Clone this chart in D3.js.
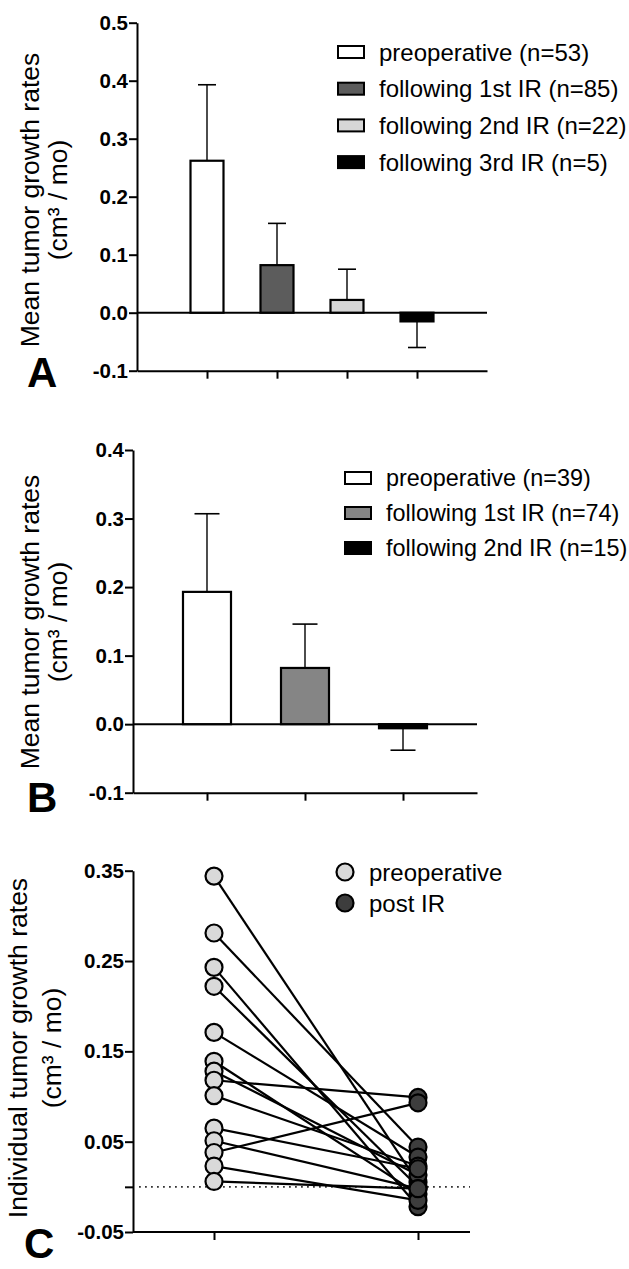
<!DOCTYPE html>
<html>
<head>
<meta charset="utf-8">
<script src="https://cdn.jsdelivr.net/npm/d3@7"></script>
<style>
  body { margin: 0; background: #fff; }
  svg text { font-family: "Liberation Sans", Arial, sans-serif; fill: #000; }
  svg .tick text { font-size: 20.5px; font-weight: bold; }
  .ttl { font-size: 26.5px; }
  .leg { font-size: 24px; }
  .legB { font-size: 23.4px; }
  .letter { font-size: 42px; font-weight: bold; }
</style>
</head>
<body>
<script>
"use strict";

// ---- panel A: mean growth rates, all patients
const groupsA = ["preoperative (n=53)", "following 1st IR (n=85)", "following 2nd IR (n=22)", "following 3rd IR (n=5)"];
const meansA = [0.262, 0.082, 0.022, -0.015];
const errsA = [0.131, 0.072, 0.053, 0.045];
const ticksA = [-0.1, 0.0, 0.1, 0.2, 0.3, 0.4, 0.5];

// ---- panel B: mean growth rates, second cohort
const groupsB = ["preoperative (n=39)", "following 1st IR (n=74)", "following 2nd IR (n=15)"];
const meansB = [0.193, 0.082, -0.006];
const errsB = [0.114, 0.064, 0.032];
const ticksB = [-0.1, 0.0, 0.1, 0.2, 0.3, 0.4];

// ---- panel C: individual paired rates
const seriesC = ["preoperative", "post IR"];
const preC  = [0.344, 0.281, 0.243, 0.222, 0.171, 0.139, 0.128, 0.118, 0.101, 0.065, 0.051, 0.038, 0.023, 0.006];
const postC = [0.005, 0.044, -0.022, 0.000, 0.033, -0.008, 0.013, 0.099, 0.023, 0.020, -0.002, 0.093, -0.015, -0.002];
const ticksC = [-0.05, 0.0, 0.05, 0.15, 0.25, 0.35];

const yTitle1 = "Mean tumor growth rates";
const yTitleC = "Individual tumor growth rates";
const yUnit = "(cm\u00B3 / mo)";

const W = 629, H = 1269;
const svg = d3.select("body").append("svg")
    .attr("width", W)
    .attr("height", H)
    .style("background", "#fff");

function styleAxis(g) {
    g.attr("font-size", null).attr("font-family", null);
    g.select(".domain").attr("stroke", "#000").attr("stroke-width", 2);
    g.selectAll(".tick line").attr("stroke", "#000").attr("stroke-width", 2);
}

function yTitle(x1, x2, yc, line1) {
    svg.append("text").attr("class", "ttl")
        .attr("transform", `translate(${x1},${yc}) rotate(-90)`)
        .attr("text-anchor", "middle").text(line1);
    svg.append("text").attr("class", "ttl")
        .attr("transform", `translate(${x2},${yc}) rotate(-90)`)
        .attr("text-anchor", "middle").text(yUnit);
}

function barPanel(cfg) {
    const g = svg.append("g");
    const y = d3.scaleLinear().domain(cfg.yDomain).range(cfg.yRange);
    const x = d3.scalePoint().domain(cfg.groups).range(cfg.xRange).padding(cfg.pad);
    const bw = cfg.barWidth, cw = cfg.capWidth;

    // zero line
    g.append("line")
        .attr("x1", cfg.xRange[0]).attr("x2", cfg.xRange[1])
        .attr("y1", y(0)).attr("y2", y(0))
        .attr("stroke", "#000").attr("stroke-width", 2);

    // error bars (one-sided, away from zero)
    const tip = i => cfg.means[i] + Math.sign(cfg.means[i]) * cfg.errs[i];
    g.selectAll("line.err").data(cfg.groups).join("line")
        .attr("class", "err")
        .attr("x1", d => x(d)).attr("x2", d => x(d))
        .attr("y1", (d, i) => y(cfg.means[i]))
        .attr("y2", (d, i) => y(tip(i)))
        .attr("stroke", "#000").attr("stroke-width", 1.4);
    g.selectAll("line.cap").data(cfg.groups).join("line")
        .attr("class", "cap")
        .attr("x1", d => x(d) - cw / 2).attr("x2", d => x(d) + cw / 2)
        .attr("y1", (d, i) => y(tip(i))).attr("y2", (d, i) => y(tip(i)))
        .attr("stroke", "#000").attr("stroke-width", 1.6);

    // bars
    g.selectAll("rect.bar").data(cfg.groups).join("rect")
        .attr("class", "bar")
        .attr("x", d => x(d) - bw / 2)
        .attr("width", bw)
        .attr("y", (d, i) => y(Math.max(0, cfg.means[i])))
        .attr("height", (d, i) => Math.abs(y(cfg.means[i]) - y(0)))
        .attr("fill", (d, i) => cfg.fills[i])
        .attr("stroke", "#000").attr("stroke-width", 2.2);

    // axes
    g.append("g")
        .attr("transform", `translate(${cfg.xRange[0]},0)`)
        .call(d3.axisLeft(y).tickValues(cfg.ticks).tickFormat(d => d.toFixed(1))
            .tickSize(8).tickSizeOuter(0).tickPadding(1))
        .call(styleAxis);
    g.append("g")
        .attr("transform", `translate(0,${y(cfg.yDomain[0])})`)
        .call(d3.axisBottom(x).tickSize(8).tickSizeOuter(0).tickFormat(""))
        .call(styleAxis);

    // legend
    const leg = g.append("g");
    cfg.groups.forEach((name, i) => {
        const cy = cfg.legY + i * cfg.legStep;
        leg.append("rect")
            .attr("x", cfg.legX).attr("y", cy - 6)
            .attr("width", 26).attr("height", 12)
            .attr("fill", cfg.fills[i])
            .attr("stroke", "#000").attr("stroke-width", 2);
        leg.append("text").attr("class", cfg.legClass)
            .attr("x", cfg.legX + 41).attr("y", cy)
            .attr("dy", "0.36em").text(name);
    });

    yTitle(39, 67, cfg.titleY, yTitle1);
    svg.append("text").attr("class", "letter")
        .attr("x", cfg.letterX).attr("y", cfg.letterY).text(cfg.letter);
}

barPanel({
    groups: groupsA, means: meansA, errs: errsA, ticks: ticksA,
    fills: ["#ffffff", "#5c5c5c", "#d6d6d6", "#000000"],
    yDomain: [-0.1, 0.5], yRange: [370.7, 22.7],
    xRange: [137, 487], pad: 1, barWidth: 33, capWidth: 18,
    legX: 338, legY: 52, legStep: 36.7, legClass: "leg",
    titleY: 200, letter: "A", letterX: 27, letterY: 387
});

barPanel({
    groups: groupsB, means: meansB, errs: errsB, ticks: ticksB,
    fills: ["#ffffff", "#858585", "#000000"],
    yDomain: [-0.1, 0.4], yRange: [792.7, 450],
    xRange: [133, 477], pad: 0.755, barWidth: 48, capWidth: 25,
    legX: 345, legY: 478, legStep: 35, legClass: "legB",
    titleY: 622, letter: "B", letterX: 27, letterY: 812
});

// ---- panel C
(function() {
    const g = svg.append("g");
    const y = d3.scaleLinear().domain([-0.05, 0.35]).range([1232, 870.7]);
    const x = d3.scalePoint().domain(seriesC).range([214, 418]);
    const axisX = [133, 470];
    const r = 8.5;

    g.append("line")
        .attr("x1", axisX[0] + 6).attr("x2", axisX[1])
        .attr("y1", y(0)).attr("y2", y(0))
        .attr("stroke", "#333").attr("stroke-width", 1.8)
        .attr("stroke-dasharray", "1.8,4.2");

    const pairs = d3.zip(preC, postC);
    g.selectAll("line.pair").data(pairs).join("line")
        .attr("class", "pair")
        .attr("x1", x(seriesC[0])).attr("x2", x(seriesC[1]))
        .attr("y1", d => y(d[0])).attr("y2", d => y(d[1]))
        .attr("stroke", "#000").attr("stroke-width", 2.2);

    g.selectAll("circle.pre").data(preC).join("circle")
        .attr("class", "pre")
        .attr("cx", x(seriesC[0])).attr("cy", d => y(d)).attr("r", r)
        .attr("fill", "#d9d9d9").attr("stroke", "#000").attr("stroke-width", 2.2);
    g.selectAll("circle.post").data(postC).join("circle")
        .attr("class", "post")
        .attr("cx", x(seriesC[1])).attr("cy", d => y(d)).attr("r", r)
        .attr("fill", "#3d3d3d").attr("stroke", "#000").attr("stroke-width", 2.2);

    g.append("g")
        .attr("transform", `translate(${axisX[0]},0)`)
        .call(d3.axisLeft(y).tickValues(ticksC).tickFormat(d => d === 0 ? "" : d.toFixed(2))
            .tickSize(8).tickSizeOuter(0).tickPadding(1))
        .call(styleAxis);
    g.append("g")
        .attr("transform", `translate(0,${y(-0.05)})`)
        .call(d3.axisBottom(x).tickSize(8).tickSizeOuter(0).tickFormat(""))
        .call(styleAxis)
        .call(a => a.select(".domain").remove());
    g.append("line")
        .attr("x1", axisX[0]).attr("x2", axisX[1])
        .attr("y1", y(-0.05)).attr("y2", y(-0.05))
        .attr("stroke", "#000").attr("stroke-width", 2);

    // legend
    const fillsC = ["#d9d9d9", "#3d3d3d"];
    seriesC.forEach((name, i) => {
        const cy = 872 + i * 31;
        g.append("circle").attr("cx", 345).attr("cy", cy).attr("r", r)
            .attr("fill", fillsC[i]).attr("stroke", "#000").attr("stroke-width", 2.2);
        g.append("text").attr("class", "leg")
            .attr("x", 369).attr("y", cy).attr("dy", "0.36em").text(name);
    });

    yTitle(27, 61, 1048, yTitleC);
    svg.append("text").attr("class", "letter")
        .attr("x", 24).attr("y", 1258).text("C");
})();
</script>
</body>
</html>
